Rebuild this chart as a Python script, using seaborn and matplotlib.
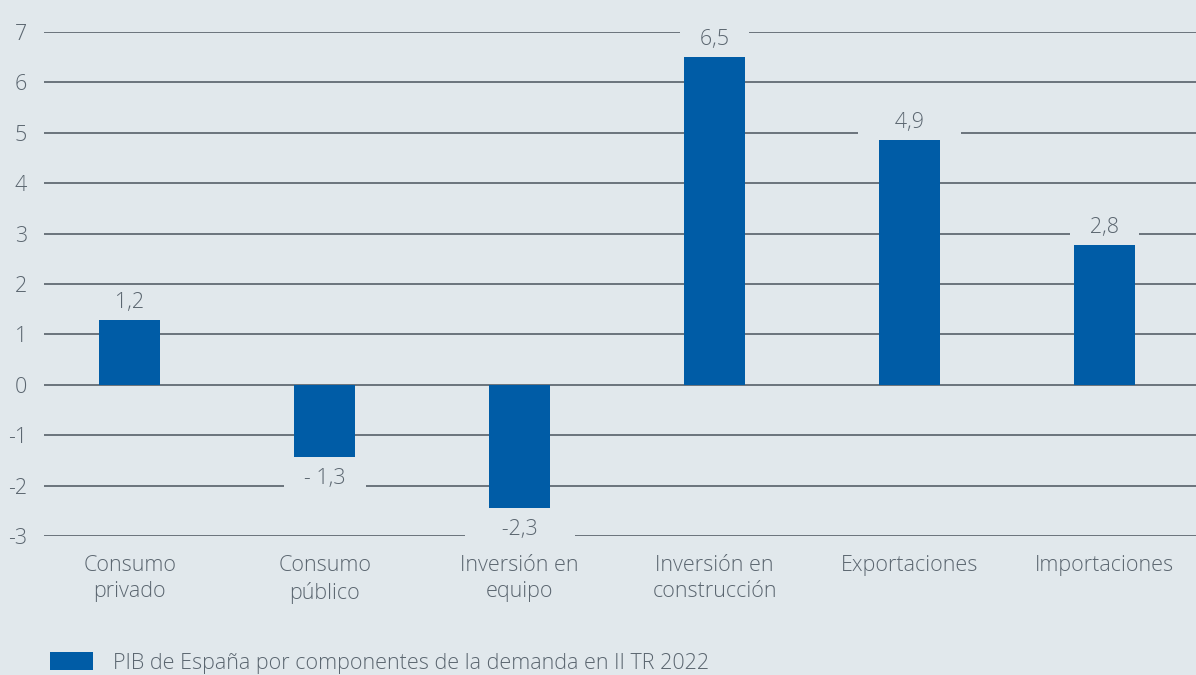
import matplotlib
matplotlib.use("Agg")
import matplotlib.pyplot as plt
import seaborn as sns
import pandas as pd

categories = ["Consumo\nprivado", "Consumo\npúblico", "Inversión en\nequipo",
              "Inversión en\nconstrucción", "Exportaciones", "Importaciones"]
values = [1.29, -1.43, -2.44, 6.5, 4.85, 2.77]
value_labels = ["1,2", "- 1,3", "-2,3", "6,5", "4,9", "2,8"]
label_spaces = [3, 3, 6, 3, 6, 3]
yticks = [-3, -2, -1, 0, 1, 2, 3, 4, 5, 6, 7]
legend_label = "PIB de España por componentes de la demanda en II TR 2022"

BG = "#e1e8ec"
BAR = "#005ca6"
TXT = "#5b6670"
GRID = "#4a545d"
FS = 15.5

sns.set_theme(style="white")
plt.rcParams["font.family"] = ["Open Sans", "DejaVu Sans"]
plt.rcParams["font.weight"] = 300

fig = plt.figure(figsize=(11.96, 6.75), dpi=100, facecolor=BG)
ax = fig.add_axes([44 / 1196, (675 - 536) / 675, 1 - 44 / 1196, (536 - 32) / 675])
ax.set_facecolor(BG)

df = pd.DataFrame({"cat": categories, "val": values})
sns.barplot(data=df, x="cat", y="val", color=BAR, width=0.313, saturation=1,
            linewidth=0, edgecolor=BAR, ax=ax, label=legend_label, zorder=2)

ax.set_ylim(-3, 7)
ax.set_xlim(-0.44, 5.47)
ax.set_yticks(yticks)
ax.set_yticklabels([str(t) for t in yticks])
ax.set_xlabel("")
ax.set_ylabel("")
for s in ax.spines.values():
    s.set_visible(False)
ax.yaxis.grid(True, color=GRID, linewidth=1.1)
ax.xaxis.grid(False)
ax.set_axisbelow(True)
ax.tick_params(axis="y", length=0, pad=12, labelsize=FS, labelcolor=TXT)
ax.tick_params(axis="x", length=0, pad=14, labelsize=FS, labelcolor=TXT)
for lab in ax.get_xticklabels() + ax.get_yticklabels():
    lab.set_fontweight(300)
for lab in ax.get_xticklabels():
    lab.set_linespacing(1.3)

for i, (v, t, sp) in enumerate(zip(values, value_labels, label_spaces)):
    pad = " " * sp
    if v >= 0:
        ax.annotate(pad + t + pad, xy=(i, v), xytext=(0, 5), textcoords="offset points",
                    ha="center", va="bottom", fontsize=FS, color=TXT, fontweight=300,
                    bbox=dict(boxstyle="square,pad=0.15", fc=BG, ec="none"), zorder=5)
    else:
        ax.annotate(pad + t + pad, xy=(i, v), xytext=(0, -8), textcoords="offset points",
                    ha="center", va="top", fontsize=FS, color=TXT, fontweight=300,
                    bbox=dict(boxstyle="square,pad=0.15", fc=BG, ec="none"), zorder=5)

if ax.legend_:
    ax.legend_.remove()
handles, labels = ax.get_legend_handles_labels()
leg = fig.legend(handles[:1], labels[:1], loc="center left",
                 bbox_to_anchor=(50 / 1196, (675 - 663) / 675), frameon=False,
                 borderpad=0, borderaxespad=0, handlelength=2.0, handleheight=0.9,
                 handletextpad=0.92, fontsize=FS)
for t in leg.get_texts():
    t.set_color(TXT)
    t.set_fontweight(300)

fig.savefig("out.png", dpi=100, facecolor=BG)
